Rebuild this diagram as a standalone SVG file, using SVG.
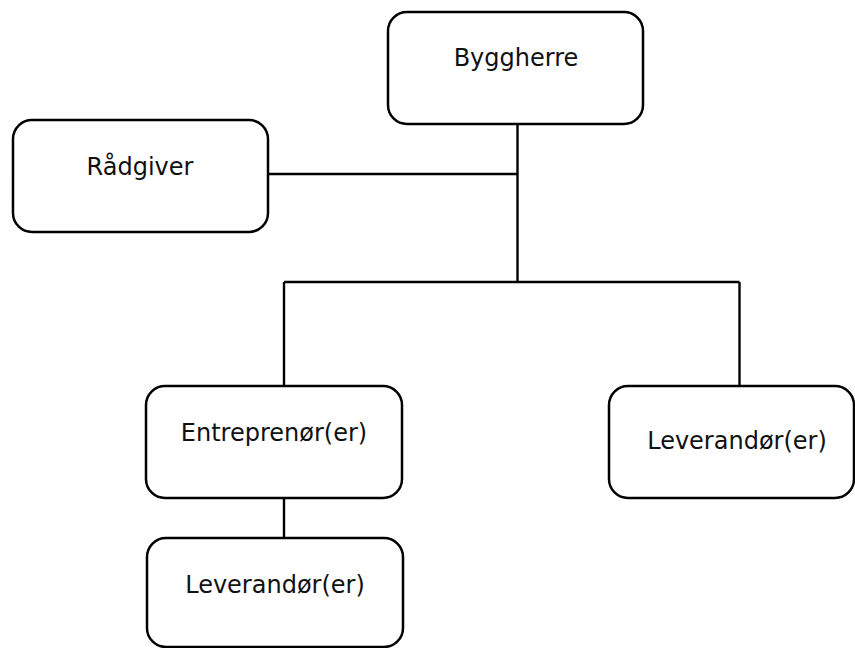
<svg xmlns="http://www.w3.org/2000/svg" width="855" height="648" viewBox="0 0 855 648">
<style>
.box{fill:#fff;stroke:#000;stroke-width:2.5}
.lbl{font-family:"DejaVu Sans",Verdana,sans-serif;font-size:24px;fill:#111;text-anchor:middle}
.conn{fill:none;stroke:#000;stroke-width:2.4}
</style>
<rect width="855" height="648" fill="#fff"/>
<g id="connectors">
<path class="conn" d="M517.5 124V282"/>
<path class="conn" d="M267.5 174H517.5"/>
<path class="conn" d="M284 282H739.5"/>
<path class="conn" d="M284 282V386"/>
<path class="conn" d="M739.5 282V386"/>
<path class="conn" d="M284 498V538"/>
</g>
<g id="byggherre">
<rect class="box" x="388" y="12" width="255" height="112" rx="19"/>
<text class="lbl" x="516" y="66">Byggherre</text>
</g>
<g id="raadgiver">
<rect class="box" x="13" y="120" width="255" height="112" rx="19"/>
<text class="lbl" x="140" y="175">Rådgiver</text>
</g>
<g id="entreprenor">
<rect class="box" x="146" y="386" width="256" height="112" rx="19"/>
<text class="lbl" x="274" y="441">Entreprenør(er)</text>
</g>
<g id="leverandor-right">
<rect class="box" x="609" y="386" width="245" height="112" rx="19"/>
<text class="lbl" x="737" y="449">Leverandør(er)</text>
</g>
<g id="leverandor-bottom">
<rect class="box" x="147" y="538" width="256" height="109" rx="19"/>
<text class="lbl" x="275" y="593">Leverandør(er)</text>
</g>
</svg>
